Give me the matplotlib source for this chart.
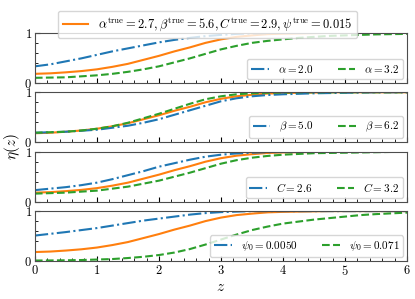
import matplotlib
matplotlib.use("Agg")
import matplotlib.pyplot as plt
from matplotlib.ticker import MultipleLocator

plt.rcParams['font.family'] = 'serif'
plt.rcParams['font.serif'] = ['cmr10', 'DejaVu Serif']
plt.rcParams['mathtext.fontset'] = 'cm'
plt.rcParams['axes.formatter.use_mathtext'] = True

# values, every 0.25 in z
z = [0, 0.25, 0.5, 0.75, 1, 1.25, 1.5, 1.75, 2, 2.25, 2.5, 2.75, 3,
     3.25, 3.5, 3.75, 4, 4.25, 4.5, 4.75, 5, 5.25, 5.5, 5.75, 6]

eta_true = [0.18, 0.19, 0.21, 0.235, 0.27, 0.32, 0.38, 0.46, 0.54, 0.63, 0.71, 0.80, 0.87,
            0.92, 0.95, 0.975, 0.985, 0.99, 0.995, 1.0, 1.0, 1.0, 1.0, 1.0, 1.0]

eta_alpha_lo = [0.33, 0.37, 0.43, 0.49, 0.56, 0.63, 0.69, 0.75, 0.81, 0.86, 0.90, 0.935, 0.96,
                0.98, 0.99, 0.995, 1.0, 1.0, 1.0, 1.0, 1.0, 1.0, 1.0, 1.0, 1.0]
eta_alpha_hi = [0.10, 0.105, 0.11, 0.13, 0.15, 0.18, 0.22, 0.27, 0.33, 0.41, 0.49, 0.58, 0.67,
                0.74, 0.80, 0.84, 0.87, 0.90, 0.92, 0.94, 0.95, 0.96, 0.97, 0.975, 0.98]

eta_beta_lo = [0.19, 0.20, 0.21, 0.23, 0.25, 0.29, 0.33, 0.39, 0.46, 0.55, 0.64, 0.73, 0.82,
               0.88, 0.92, 0.945, 0.96, 0.97, 0.98, 0.985, 0.99, 0.995, 1.0, 1.0, 1.0]
eta_beta_hi = [0.19, 0.20, 0.21, 0.235, 0.27, 0.32, 0.39, 0.48, 0.57, 0.67, 0.77, 0.86, 0.92,
               0.96, 0.98, 0.99, 0.995, 1.0, 1.0, 1.0, 1.0, 1.0, 1.0, 1.0, 1.0]

eta_C_lo = [0.23, 0.26, 0.29, 0.33, 0.38, 0.45, 0.53, 0.61, 0.70, 0.77, 0.84, 0.90, 0.94,
            0.965, 0.98, 0.99, 0.995, 1.0, 1.0, 1.0, 1.0, 1.0, 1.0, 1.0, 1.0]
eta_C_hi = [0.16, 0.17, 0.18, 0.20, 0.22, 0.26, 0.30, 0.36, 0.42, 0.50, 0.58, 0.67, 0.76,
            0.83, 0.88, 0.915, 0.94, 0.955, 0.97, 0.975, 0.98, 0.985, 0.99, 0.995, 1.0]

eta_psi_lo = [0.51, 0.545, 0.58, 0.62, 0.66, 0.71, 0.76, 0.81, 0.85, 0.89, 0.93, 0.96, 0.98,
              0.99, 1.0, 1.0, 1.0, 1.0, 1.0, 1.0, 1.0, 1.0, 1.0, 1.0, 1.0]
eta_psi_hi = [0.01, 0.012, 0.015, 0.02, 0.03, 0.04, 0.06, 0.085, 0.12, 0.17, 0.24, 0.33, 0.43,
              0.53, 0.62, 0.69, 0.75, 0.79, 0.83, 0.86, 0.89, 0.92, 0.94, 0.955, 0.97]

labels_lo = [r'$\alpha=2.0$', r'$\beta=5.0$', r'$C=2.6$', r'$\psi_0=0.0050$']
labels_hi = [r'$\alpha=3.2$', r'$\beta=6.2$', r'$C=3.2$', r'$\psi_0=0.071$']
curves_lo = [eta_alpha_lo, eta_beta_lo, eta_C_lo, eta_psi_lo]
curves_hi = [eta_alpha_hi, eta_beta_hi, eta_C_hi, eta_psi_hi]
true_label = r'$\alpha^{\rm true}=2.7, \beta^{\rm true}=5.6, C^{\rm true}=2.9, \psi^{\rm true}=0.015$'

fig, axes = plt.subplots(4, 1, figsize=(4.15, 2.99), dpi=100, sharex=True)
fig.subplots_adjust(left=0.084, right=0.981, top=0.890, bottom=0.127, hspace=0.19)

for i, ax in enumerate(axes):
    l_true, = ax.plot(z, eta_true, color='tab:orange', lw=1.5, label=true_label)
    ax.plot(z, curves_lo[i], color='tab:blue', ls='-.', lw=1.5, label=labels_lo[i])
    ax.plot(z, curves_hi[i], color='tab:green', ls='--', lw=1.5, label=labels_hi[i])
    ax.set_xlim(0, 6)
    ax.set_ylim(0, 1)
    ax.set_yticks([0, 1])
    ax.yaxis.set_minor_locator(MultipleLocator(0.2))
    ax.xaxis.set_major_locator(MultipleLocator(1))
    ax.xaxis.set_minor_locator(MultipleLocator(0.2))
    ax.tick_params(which='both', direction='in', labelsize=9, pad=2)
    ax.tick_params(which='minor', length=2)
    ax.tick_params(which='major', length=3.5)
    handles, labs = ax.get_legend_handles_labels()
    ax.legend(handles[1:], labs[1:], loc='lower right', ncol=2, fontsize=8,
              handlelength=1.6, columnspacing=2.2, borderpad=0.35,
              borderaxespad=0.35)
    for s in ax.spines.values():
        s.set_color('0.3')

fig.legend([l_true], [true_label], loc='upper center', bbox_to_anchor=(0.5, 0.985),
           fontsize=9, borderpad=0.4)
axes[-1].set_xlabel(r'$z$', fontsize=11, labelpad=2)
fig.text(0.03, 0.51, r'$\eta(z)$', rotation=90, ha='center', va='center', fontsize=11)

fig.savefig('out.png', dpi=100)
